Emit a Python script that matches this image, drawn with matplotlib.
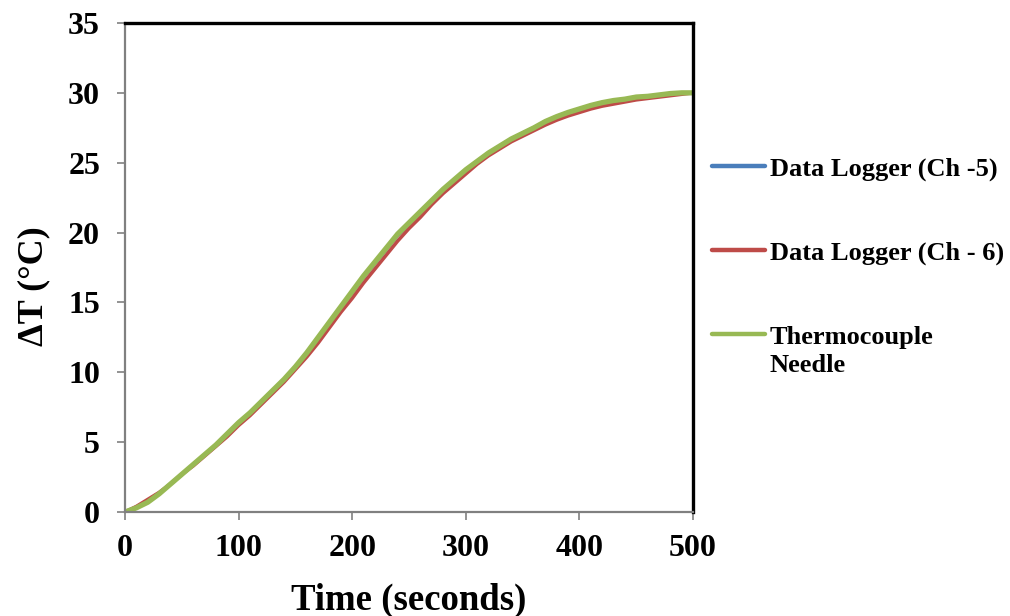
import matplotlib
matplotlib.use("Agg")
import matplotlib.pyplot as plt

plt.rcParams['font.family'] = ['Liberation Serif', 'DejaVu Serif']
plt.rcParams['font.weight'] = 'bold'

time_s = [0, 10, 20, 30, 40, 50, 60, 70, 80, 90,
          100, 110, 120, 130, 140, 150, 160, 170, 180, 190,
          200, 210, 220, 230, 240, 250, 260, 270, 280, 290,
          300, 310, 320, 330, 340, 350, 360, 370, 380, 390,
          400, 410, 420, 430, 440, 450, 460, 470, 480, 490, 500]

ch5 = [0.0, 0.35, 0.8, 1.35, 2.0, 2.7, 3.4, 4.1, 4.8, 5.6,
       6.4, 7.1, 7.9, 8.7, 9.5, 10.4, 11.4, 12.5, 13.6, 14.7,
       15.7, 16.8, 17.8, 18.8, 19.8, 20.6, 21.4, 22.3, 23.0, 23.8,
       24.5, 25.1, 25.7, 26.2, 26.7, 27.1, 27.5, 27.95, 28.3, 28.6,
       28.85, 29.1, 29.3, 29.45, 29.55, 29.7, 29.75, 29.85, 29.95, 30.0, 30.0]

ch6 = [0.0, 0.4, 0.9, 1.4, 2.0, 2.7, 3.3, 4.0, 4.7, 5.4,
       6.2, 6.9, 7.7, 8.5, 9.3, 10.2, 11.1, 12.1, 13.2, 14.3,
       15.3, 16.4, 17.4, 18.4, 19.4, 20.3, 21.1, 22.0, 22.8, 23.5,
       24.2, 24.9, 25.5, 26.0, 26.5, 26.9, 27.3, 27.7, 28.05, 28.35,
       28.6, 28.85, 29.05, 29.2, 29.35, 29.5, 29.6, 29.7, 29.8, 29.9, 30.0]

needle = [0.0, 0.3, 0.7, 1.3, 2.0, 2.7, 3.4, 4.1, 4.8, 5.6,
          6.4, 7.1, 7.9, 8.7, 9.5, 10.4, 11.4, 12.5, 13.6, 14.7,
          15.8, 16.9, 17.9, 18.9, 19.9, 20.7, 21.5, 22.3, 23.1, 23.8,
          24.5, 25.1, 25.7, 26.2, 26.7, 27.1, 27.5, 27.95, 28.3, 28.6,
          28.85, 29.1, 29.3, 29.45, 29.55, 29.7, 29.75, 29.85, 29.95, 30.0, 30.0]

series_labels = ["Data Logger (Ch -5)", "Data Logger (Ch - 6)", "Thermocouple"]
label_second_line = "Needle"
x_ticks = [0, 100, 200, 300, 400, 500]
y_ticks = [0, 5, 10, 15, 20, 25, 30, 35]

fig = plt.figure(figsize=(10.10, 6.16), dpi=100)
ax = fig.add_axes([0.1238, 0.1688, 0.5624, 0.7939])

l1, = ax.plot(time_s, ch5, color='#4A7EBB', lw=2.6, solid_capstyle='round', label=series_labels[0])
l2, = ax.plot(time_s, ch6, color='#BE4B48', lw=2.6, solid_capstyle='round', label=series_labels[1])
l3, = ax.plot(time_s, needle, color='#98B954', lw=3.8, solid_capstyle='round', label=series_labels[2])

ax.set_xlim(0, 500)
ax.set_ylim(0, 35)
ax.set_xticks(x_ticks)
ax.set_yticks(y_ticks)
ax.tick_params(axis='both', direction='out', length=6, width=1.2, color='#808080',
               labelsize=23)
ax.tick_params(axis='x', pad=10)
ax.tick_params(axis='y', pad=12)
for lab in ax.get_xticklabels() + ax.get_yticklabels():
    lab.set_fontweight('bold')

ax.spines['left'].set_color('#808080')
ax.spines['bottom'].set_color('#808080')
ax.spines['left'].set_linewidth(1.6)
ax.spines['bottom'].set_linewidth(1.6)
ax.spines['top'].set_color('black')
ax.spines['right'].set_color('black')
ax.spines['top'].set_linewidth(2.4)
ax.spines['right'].set_linewidth(2.4)

ax.set_xlabel("Time (seconds)", fontsize=26.5, fontweight='bold', labelpad=14)
ax.set_ylabel("ΔT (°C)", fontsize=26, fontweight='bold')
ax.yaxis.set_label_coords(-0.132, 0.462)

leg = fig.legend(handles=[l1, l2, l3], loc='upper left', bbox_to_anchor=(0.705, 0.745),
                 frameon=False, fontsize=19, handlelength=2.0, handletextpad=0.19,
                 labelspacing=2.28, borderaxespad=0, borderpad=0)
for t in leg.get_texts():
    t.set_fontweight('bold')
for h in leg.legend_handles:
    h.set_linewidth(3.2)

fig.canvas.draw()
txt = leg.get_texts()[2]
bb = txt.get_window_extent(fig.canvas.get_renderer())
fig.text(bb.x0 / fig.bbox.width, (bb.y0 - 5) / fig.bbox.height, label_second_line,
         va='top', ha='left', fontsize=19, fontweight='bold')

fig.savefig("out.png", dpi=100)
